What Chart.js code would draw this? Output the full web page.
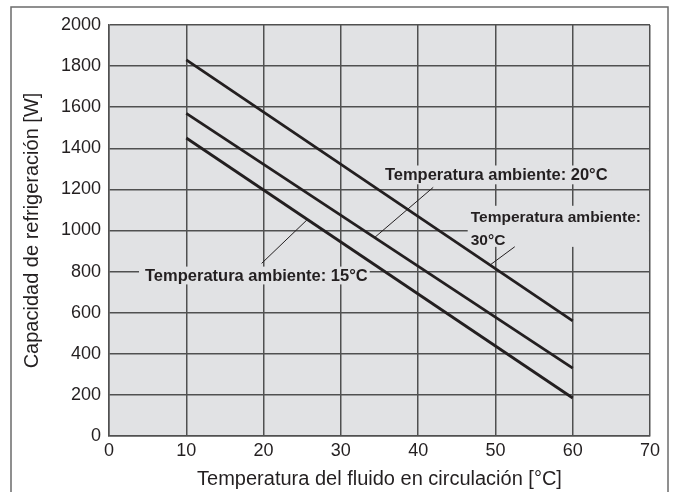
<!DOCTYPE html>
<html>
<head>
<meta charset="utf-8">
<script src="https://cdn.jsdelivr.net/npm/chart.js@4"></script>
<style>
  html, body { margin: 0; padding: 0; background: #ffffff; }
  #wrap { width: 674px; height: 492px; position: relative; }
</style>
</head>
<body>
<div id="wrap"><canvas id="c" width="674" height="492"></canvas></div>
<script>
// ---- Data ----
const fluidTemp = [10, 60];                 // °C
const capacity15 = [1450, 185];             // W, ambient 15 °C
const capacity20 = [1570, 330];             // W, ambient 20 °C
const capacity30 = [1830, 560];             // W, ambient 30 °C
const xTicks = [0, 10, 20, 30, 40, 50, 60, 70];
const yTicks = [0, 200, 400, 600, 800, 1000, 1200, 1400, 1600, 1800, 2000];
const xTitle = 'Temperatura del fluido en circulación [°C]';
const yTitle = 'Capacidad de refrigeración [W]';
const labelTexts = [
  ['Temperatura ambiente: 20°C'],
  ['Temperatura ambiente:', '30°C'],
  ['Temperatura ambiente: 15°C']
];

// ---- Annotation placement (data units) ----
const annotationLayout = [
  { x: 35.7, y: 1273, size: 16.5, gap: 0, pad: { l: 4, r: 4, t: 3, b: 4 }, leader: [[41.95, 1210], [34.4, 967]] },
  { x: 46.8, y: 1069, size: 15.5, gap: 23, pad: { l: 3, r: 8, t: 5, b: 2 }, leader: [[52.5, 921], [49.3, 832]] },
  { x: 4.66, y: 781, size: 16.5, gap: 0, pad: { l: 6, r: 2, t: 3, b: 3 }, leader: [[19.75, 840], [25.6, 1051]] }
];

const INK = '#231f20';
const GRID = '#505050';
const PLOT_BG = '#e1e2e4';
const FAMILY = "'Liberation Sans', Arial, Helvetica, sans-serif";

function pts(ys) { return fluidTemp.map((x, i) => ({ x: x, y: ys[i] })); }

function labelGeom(chart, a, lines) {
  const ctx = chart.ctx;
  const xs = chart.scales.x, ys = chart.scales.y;
  ctx.save();
  ctx.font = 'bold ' + a.size + 'px ' + FAMILY;
  const w = Math.max(...lines.map(t => ctx.measureText(t).width));
  ctx.restore();
  const left = xs.getPixelForValue(a.x);
  const cy = ys.getPixelForValue(a.y);
  const cap = a.size * 0.716;
  const top = cy - cap / 2;
  const lastBase = cy + cap / 2 + a.gap * (lines.length - 1);
  return { left, w, top, lastBase, cy, cap };
}

const decorPlugin = {
  id: 'decor',
  beforeDraw(chart) {
    const { ctx, chartArea: a } = chart;
    ctx.save();
    ctx.fillStyle = '#ffffff';
    ctx.fillRect(0, 0, chart.width, chart.height);
    ctx.fillStyle = PLOT_BG;
    ctx.fillRect(a.left, a.top, a.right - a.left, a.bottom - a.top);
    // outer frame
    ctx.strokeStyle = '#6b6b6b';
    ctx.lineWidth = 1.5;
    ctx.strokeRect(11, 7, 657, 520);
    ctx.restore();
  },
  beforeDatasetsDraw(chart) {
    const ctx = chart.ctx;
    ctx.save();
    ctx.fillStyle = PLOT_BG;
    annotationLayout.forEach((a, i) => {
      const g = labelGeom(chart, a, labelTexts[i]);
      ctx.fillRect(g.left - a.pad.l, g.top - a.pad.t,
                   g.w + a.pad.l + a.pad.r, (g.lastBase + a.pad.b) - (g.top - a.pad.t));
    });
    ctx.restore();
  },
  afterDatasetsDraw(chart) {
    const ctx = chart.ctx;
    const xs = chart.scales.x, ys = chart.scales.y;
    ctx.save();
    annotationLayout.forEach((a, i) => {
      // leader line
      ctx.strokeStyle = INK;
      ctx.lineWidth = 1;
      ctx.beginPath();
      ctx.moveTo(xs.getPixelForValue(a.leader[0][0]), ys.getPixelForValue(a.leader[0][1]));
      ctx.lineTo(xs.getPixelForValue(a.leader[1][0]), ys.getPixelForValue(a.leader[1][1]));
      ctx.stroke();
      // text
      const g = labelGeom(chart, a, labelTexts[i]);
      ctx.fillStyle = INK;
      ctx.font = 'bold ' + a.size + 'px ' + FAMILY;
      ctx.textAlign = 'left';
      ctx.textBaseline = 'alphabetic';
      labelTexts[i].forEach((t, k) => {
        ctx.fillText(t, g.left, g.cy + g.cap / 2 + a.gap * k);
      });
    });
    ctx.restore();
  }
};

const lineStyle = {
  borderColor: INK,
  borderWidth: 2.8,
  pointRadius: 0,
  fill: false,
  tension: 0
};

new Chart(document.getElementById('c'), {
  type: 'line',
  data: {
    datasets: [
      Object.assign({ label: '15°C', data: pts(capacity15) }, lineStyle),
      Object.assign({ label: '20°C', data: pts(capacity20) }, lineStyle),
      Object.assign({ label: '30°C', data: pts(capacity30) }, lineStyle)
    ]
  },
  options: {
    responsive: false,
    animation: false,
    devicePixelRatio: 1,
    layout: { padding: { left: 0, top: 25, right: 24, bottom: 0 } },
    plugins: { legend: { display: false }, tooltip: { enabled: false } },
    scales: {
      x: {
        type: 'linear',
        min: 0, max: 70,
        afterBuildTicks(s) { s.ticks = xTicks.map(v => ({ value: v })); },
        afterFit(s) { s.height = 56; },
        ticks: { color: INK, font: { family: FAMILY, size: 18 }, padding: 4, maxRotation: 0, callback: v => String(v) },
        grid: { color: GRID, lineWidth: 1.5, drawTicks: false },
        border: { color: GRID, width: 1.5 },
        title: { display: true, text: xTitle, color: INK, font: { family: FAMILY, size: 20 }, padding: { top: 0, bottom: 1 } }
      },
      y: {
        type: 'linear',
        min: 0, max: 2000,
        afterBuildTicks(s) { s.ticks = yTicks.map(v => ({ value: v })); },
        afterFit(s) { s.width = 109; },
        ticks: { color: INK, font: { family: FAMILY, size: 18 }, padding: 8, callback: v => String(v) },
        grid: { color: GRID, lineWidth: 1.5, drawTicks: false },
        border: { color: GRID, width: 1.5 },
        title: { display: true, text: yTitle, color: INK, font: { family: FAMILY, size: 20 }, padding: { top: 20.5, bottom: 0 } }
      }
    }
  },
  plugins: [decorPlugin]
});
</script>
</body>
</html>
